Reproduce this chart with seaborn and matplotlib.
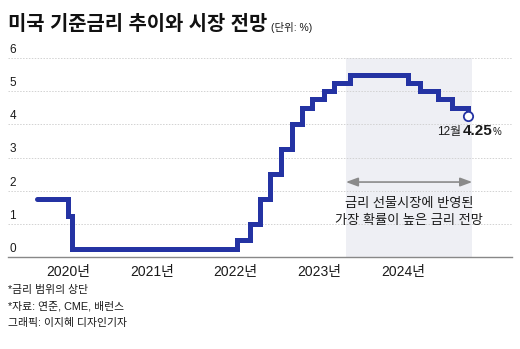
import matplotlib
matplotlib.use("Agg")
import matplotlib.pyplot as plt
import seaborn as sns
import pandas as pd

# ---------------- data ----------------
title = "미국 기준금리 추이와 시장 전망"
unit = "(단위: %)"
dates = [2019.63, 2020.00, 2020.05, 2022.02, 2022.17, 2022.29, 2022.41, 2022.55,
         2022.68, 2022.79, 2022.92, 2023.06, 2023.18, 2023.37, 2024.06, 2024.21,
         2024.42, 2024.59, 2024.78]
rates = [1.75, 1.25, 0.25, 0.50, 1.00, 1.75, 2.50, 3.25,
         4.00, 4.50, 4.75, 5.00, 5.25, 5.50, 5.25, 5.00,
         4.75, 4.50, 4.25]
year_ticks = [2020, 2021, 2022, 2023, 2024]
year_labels = ["2020년", "2021년", "2022년", "2023년", "2024년"]
y_ticks = [0, 1, 2, 3, 4, 5, 6]
forecast_span = [2023.32, 2024.83]
forecast_text = "금리 선물시장에 반영된\n가장 확률이 높은 금리 전망"
last_month = "12월"
last_value = "4.25"
notes = ["*금리 범위의 상단", "*자료: 연준, CME, 배런스", "그래픽: 이지혜 디자인기자"]

# ---------------- style ----------------
sns.set_theme(style="white")
plt.rcParams["font.family"] = ["Liberation Sans", "Noto Sans CJK KR"]
LINE = "#2433A3"
TXT = "#1a1a1a"

W, H = 520, 349
fig = plt.figure(figsize=(W / 100, H / 100), dpi=100)
fig.patch.set_facecolor("white")
ax = fig.add_axes([8 / W, (H - 257) / H, 504 / W, 199 / H])
ax.set_facecolor("white")
ax.set_xlim(2019.283, 2025.305)
ax.set_ylim(0, 6)

# forecast shading
ax.axvspan(forecast_span[0], forecast_span[1], color="#EEEFF4", lw=0, zorder=0)

# grid
ax.set_yticks(y_ticks)
ax.grid(axis="y", color="#d2d2d2", lw=0.7, ls=(0, (1.5, 1.5)), zorder=1)
ax.grid(axis="x", visible=False)
ax.tick_params(axis="y", length=0, labelleft=False)
for v in y_ticks:
    ax.annotate(str(v), xy=(0, v), xycoords=ax.get_yaxis_transform(),
                xytext=(1, 1.5), textcoords="offset points",
                ha="left", va="bottom", fontsize=8.5, color=TXT)

# x axis
ax.set_xticks(year_ticks, year_labels)
ax.tick_params(axis="x", direction="in", length=4, width=1, color="#888888",
               pad=6, labelsize=10, labelcolor=TXT)
for s in ["top", "left", "right"]:
    ax.spines[s].set_visible(False)
ax.spines["bottom"].set_color("#888888")
ax.spines["bottom"].set_linewidth(1)

# rate line
df = pd.DataFrame({"date": dates, "rate": rates})
sns.lineplot(data=df, x="date", y="rate", ax=ax, drawstyle="steps-post",
             color=LINE, lw=3.6, solid_capstyle="round", solid_joinstyle="miter",
             zorder=3, clip_on=False)
sns.scatterplot(x=[dates[-1]], y=[rates[-1]], ax=ax, s=45, facecolor="white",
                edgecolor=LINE, linewidth=1.3, zorder=4)
ax.set_xlabel("")
ax.set_ylabel("")

# arrow & forecast text
ax.annotate("", xy=(forecast_span[0], 2.26), xytext=(forecast_span[1], 2.26),
            arrowprops=dict(arrowstyle="<|-|>,head_length=0.6,head_width=0.22",
                            color="#8a8a8a", lw=1.2, shrinkA=0, shrinkB=0),
            zorder=2)
ax.text(sum(forecast_span) / 2, 1.33, forecast_text, ha="center", va="center",
        fontsize=9.5, linespacing=1.55, color=TXT)

# last value label
t1 = ax.text(2024.41, 3.77, last_month, ha="left", va="center",
             fontsize=8.5, color=TXT)
t2 = ax.annotate(last_value, xy=(1, 0), xycoords=t1, xytext=(1.5, 0),
                 textcoords="offset points", ha="left", va="bottom",
                 fontsize=11, fontweight="bold", color=TXT)
ax.annotate("%", xy=(1, 0), xycoords=t2, xytext=(0, 1),
            textcoords="offset points", ha="left", va="bottom",
            fontsize=7, color=TXT)

# title
tt = fig.text(8 / W, 1 - 25 / H, title, ha="left", va="center",
              fontsize=14.3, fontweight="black", color="#111111")
ax.annotate(unit, xy=(1, 0), xycoords=tt, xytext=(3, 1),
            textcoords="offset points", ha="left", va="bottom",
            fontsize=7.5, color=TXT, annotation_clip=False)

# notes
for i, n in enumerate(notes):
    fig.text(8 / W, 1 - (290 + i * 16.5) / H, n, ha="left", va="center",
             fontsize=7.8, color=TXT)

fig.savefig("out.png", dpi=100)
